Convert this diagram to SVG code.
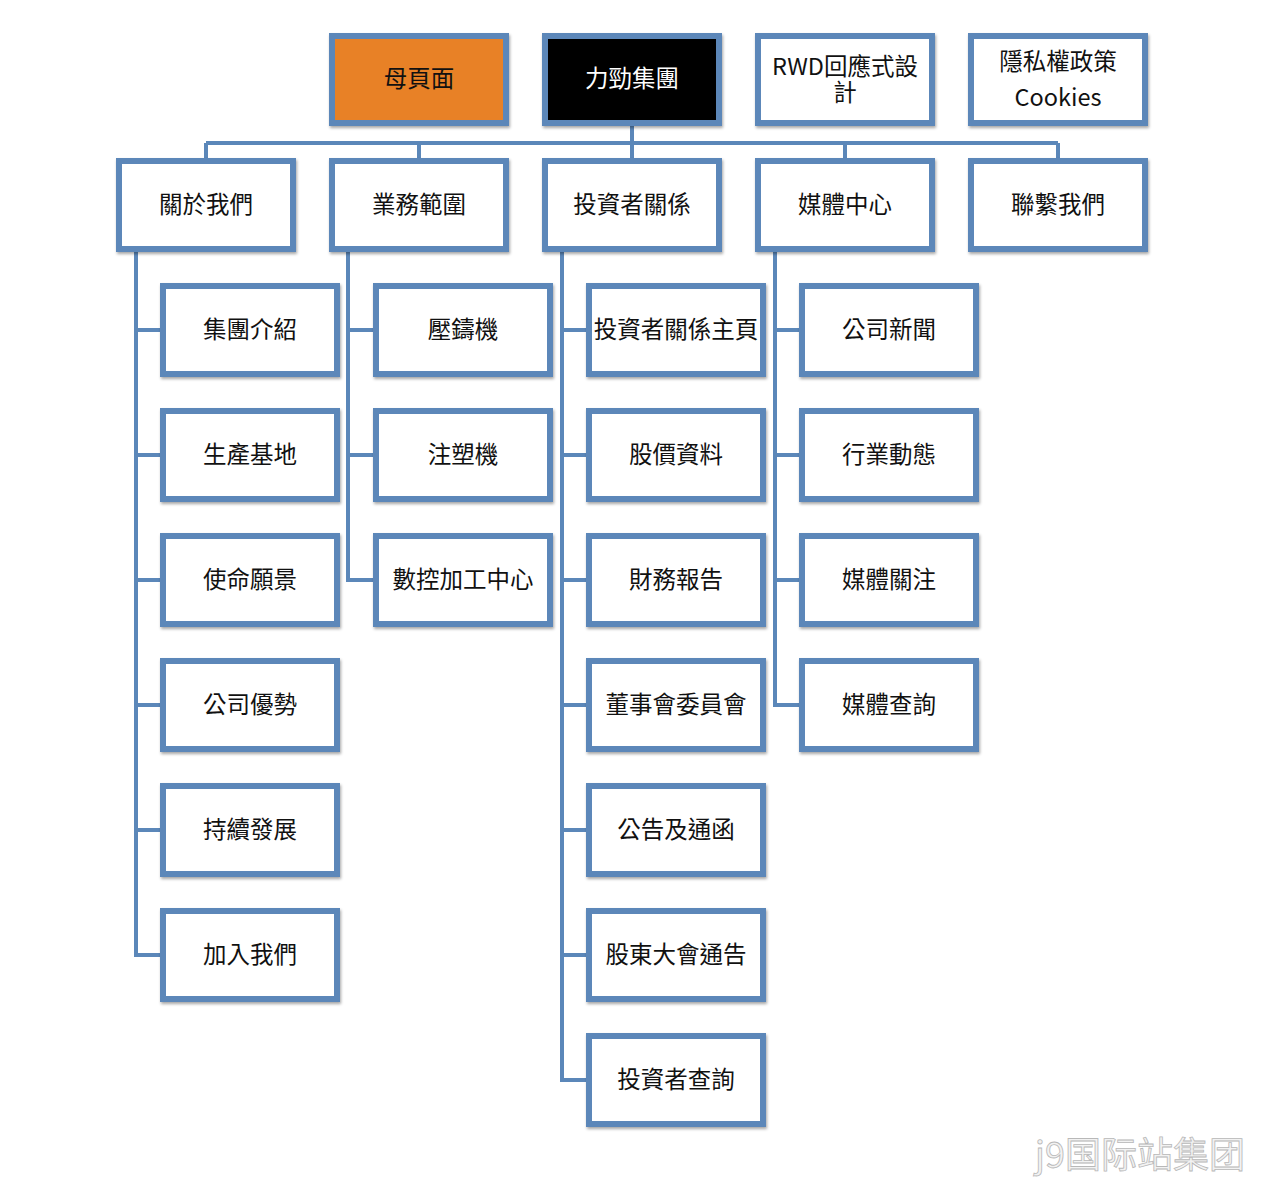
<svg xmlns="http://www.w3.org/2000/svg" width="1266" height="1186" viewBox="0 0 1266 1186">
<defs>
<filter id="sh" x="-10%" y="-10%" width="120%" height="130%">
<feDropShadow dx="1" dy="2" stdDeviation="1.5" flood-color="#000" flood-opacity="0.35"/>
</filter>
</defs>
<style>
.b{fill:#fff;stroke:#5b87b9;stroke-width:6;filter:url(#sh)}
.t{font-family:"Noto Sans CJK TC","Noto Sans",sans-serif;font-size:23.5px;fill:#111;text-anchor:middle;dominant-baseline:central}
.c{fill:none;stroke:#5b87b9;stroke-width:4}
</style>
<rect width="1266" height="1186" fill="#fff"/>
<g id="connectors">
<path class="c" d="M632 126V143M206 143H1058M206 143V158M419 143V158M845 143V158M1058 143V158M632 143V158"/>
<path class="c" d="M136 252V955H160M136 330H160M136 455H160M136 580H160M136 705H160M136 830H160"/>
<path class="c" d="M348 252V580H373M348 330H373M348 455H373"/>
<path class="c" d="M562 252V1080H586M562 330H586M562 455H586M562 580H586M562 705H586M562 830H586M562 955H586"/>
<path class="c" d="M775 252V705H799M775 330H799M775 455H799M775 580H799"/>
</g>
<g id="n-mother"><rect class="b" x="332" y="36" width="174" height="87" style="fill:#e88125"/><text class="t" x="419" y="77">母頁面</text></g>
<g id="n-root"><rect class="b" x="545" y="36" width="174" height="87" style="fill:#000"/><text class="t" x="632" y="77" style="fill:#fff">力勁集團</text></g>
<g id="n-rwd"><rect class="b" x="758" y="36" width="174" height="87"/><text class="t" x="845" y="65">RWD回應式設</text><text class="t" x="845" y="91">計</text></g>
<g id="n-privacy"><rect class="b" x="971" y="36" width="174" height="87"/><text class="t" x="1058" y="60">隱私權政策</text><text class="t" x="1058" y="96">Cookies</text></g>

<g id="n-about"><rect class="b" x="119" y="161" width="174" height="88"/><text class="t" x="206" y="203">關於我們</text></g>
<g id="n-business"><rect class="b" x="332" y="161" width="174" height="88"/><text class="t" x="419" y="203">業務範圍</text></g>
<g id="n-investor"><rect class="b" x="545" y="161" width="174" height="88"/><text class="t" x="632" y="203">投資者關係</text></g>
<g id="n-media"><rect class="b" x="758" y="161" width="174" height="88"/><text class="t" x="845" y="203">媒體中心</text></g>
<g id="n-contact"><rect class="b" x="971" y="161" width="174" height="88"/><text class="t" x="1058" y="203">聯繫我們</text></g>

<g id="n-a1"><rect class="b" x="163" y="286" width="174" height="88"/><text class="t" x="250" y="328">集團介紹</text></g>
<g id="n-a2"><rect class="b" x="163" y="411" width="174" height="88"/><text class="t" x="250" y="453">生產基地</text></g>
<g id="n-a3"><rect class="b" x="163" y="536" width="174" height="88"/><text class="t" x="250" y="578">使命願景</text></g>
<g id="n-a4"><rect class="b" x="163" y="661" width="174" height="88"/><text class="t" x="250" y="703">公司優勢</text></g>
<g id="n-a5"><rect class="b" x="163" y="786" width="174" height="88"/><text class="t" x="250" y="828">持續發展</text></g>
<g id="n-a6"><rect class="b" x="163" y="911" width="174" height="88"/><text class="t" x="250" y="953">加入我們</text></g>

<g id="n-b1"><rect class="b" x="376" y="286" width="174" height="88"/><text class="t" x="463" y="328">壓鑄機</text></g>
<g id="n-b2"><rect class="b" x="376" y="411" width="174" height="88"/><text class="t" x="463" y="453">注塑機</text></g>
<g id="n-b3"><rect class="b" x="376" y="536" width="174" height="88"/><text class="t" x="463" y="578">數控加工中心</text></g>

<g id="n-i1"><rect class="b" x="589" y="286" width="174" height="88"/><text class="t" x="676" y="328">投資者關係主頁</text></g>
<g id="n-i2"><rect class="b" x="589" y="411" width="174" height="88"/><text class="t" x="676" y="453">股價資料</text></g>
<g id="n-i3"><rect class="b" x="589" y="536" width="174" height="88"/><text class="t" x="676" y="578">財務報告</text></g>
<g id="n-i4"><rect class="b" x="589" y="661" width="174" height="88"/><text class="t" x="676" y="703">董事會委員會</text></g>
<g id="n-i5"><rect class="b" x="589" y="786" width="174" height="88"/><text class="t" x="676" y="828">公告及通函</text></g>
<g id="n-i6"><rect class="b" x="589" y="911" width="174" height="88"/><text class="t" x="676" y="953">股東大會通告</text></g>
<g id="n-i7"><rect class="b" x="589" y="1036" width="174" height="88"/><text class="t" x="676" y="1078">投資者查詢</text></g>

<g id="n-m1"><rect class="b" x="802" y="286" width="174" height="88"/><text class="t" x="889" y="328">公司新聞</text></g>
<g id="n-m2"><rect class="b" x="802" y="411" width="174" height="88"/><text class="t" x="889" y="453">行業動態</text></g>
<g id="n-m3"><rect class="b" x="802" y="536" width="174" height="88"/><text class="t" x="889" y="578">媒體關注</text></g>
<g id="n-m4"><rect class="b" x="802" y="661" width="174" height="88"/><text class="t" x="889" y="703">媒體查詢</text></g>

<text x="1140" y="1152" style="font-family:'Noto Sans CJK SC','Noto Sans',sans-serif;font-size:36px;fill:#f2f2f2;stroke:#b8b8b8;stroke-width:0.8;text-anchor:middle;dominant-baseline:central">j9国际站集团</text>
</svg>
